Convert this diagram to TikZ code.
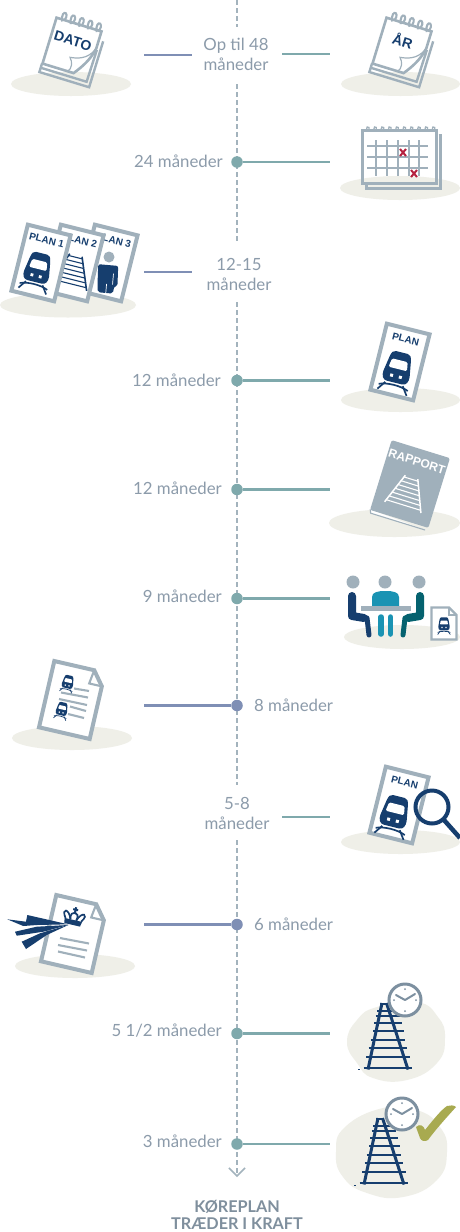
\documentclass[tikz,border=0pt]{standalone}
\usepackage{fontspec}
\setmainfont{Lato}
\newfontfamily\iconfont{Liberation Sans}
\usetikzlibrary{arrows.meta}
\definecolor{navy}{HTML}{163E6E}
\definecolor{axisgrey}{HTML}{A3B3BD}
\definecolor{sheet}{HTML}{A0B0BB}
\definecolor{tealline}{HTML}{7FA9AC}
\definecolor{purpline}{HTML}{7F8FB5}
\definecolor{ground}{HTML}{EFEFE8}
\definecolor{labelc}{HTML}{8C9BAA}
\definecolor{boldc}{HTML}{7F8F9D}
\definecolor{redx}{HTML}{B5213F}
\definecolor{olive}{HTML}{A8AA50}
\definecolor{bluep}{HTML}{1A93B3}
\definecolor{darkteal}{HTML}{05626F}
\definecolor{clockc}{HTML}{7D90A0}
\tikzset{
  x=1pt,y=-1pt,
  lab/.style={font=\fontsize{16.8}{20}\selectfont,text=labelc,inner sep=0pt,align=center},
  axisline/.style={draw=axisgrey,line width=2pt,dash pattern=on 4.5pt off 3.5pt},
  dotT/.style={circle,fill=tealline,inner sep=0pt,minimum size=11.5pt},
  dotP/.style={circle,fill=purpline,inner sep=0pt,minimum size=11.5pt},
  lineT/.style={draw=tealline,line width=2.2pt},
  lineP/.style={draw=purpline,line width=2.2pt},
  grd/.style={fill=ground},
  sheetline/.style={draw=sheet,line width=4pt,line join=miter},
  thinsheet/.style={draw=sheet,line width=2.1pt},
  iconlab/.style={font=\iconfont\bfseries\fontsize{10}{10}\selectfont,text=navy,inner sep=0pt,transform shape},
}
% train icon: x y rotation scale
\newcommand{\TrainIcon}[4]{%
\begin{scope}[shift={(#1,#2)},rotate=#3,scale=#4]
\fill[navy] (-6,-16) -- (6,-16) .. controls (9,-16) and (10,-14) .. (11,-9) -- (13.5,6) .. controls (14,11) and (12,15) .. (8,15) -- (-8,15) .. controls (-12,15) and (-14,11) .. (-13.5,6) -- (-11,-9) .. controls (-10,-14) and (-9,-16) .. (-6,-16) -- cycle;
\fill[white,rounded corners=1.5*#4] (-8,-8) -- (8,-8) -- (9.5,1) -- (-9.5,1) -- cycle;
\fill[white] (-6,7) rectangle (-3,10) (3,7) rectangle (6,10);
\draw[navy,line width=1.7pt*#4] (-15,20) .. controls (-7,16.5) and (7,16.5) .. (15,20);
\draw[navy,line width=1.7pt*#4] (-9,16.5) -- (-15,25) (9,16.5) -- (15,25);
\end{scope}}
% tilted plan sheet: x y text
\newcommand{\PlanSheet}[3]{%
\begin{scope}[shift={(#1,#2)},rotate=-14]
\draw[sheetline,fill=white] (-22,-34) rectangle (22,34);
\node[iconlab] at (0,-23.5) {#3};
\end{scope}}
% spiral calendar pad
\newcommand{\CalPad}[3]{%
\begin{scope}[shift={(#1,#2)},rotate=-17]
\draw[thinsheet,line width=2.4pt] (-24,24) -- (-24,33) -- (28,33) -- (28,-15);
\draw[thinsheet,line width=2.4pt] (-24,28.5) -- (24,28.5) -- (24.5,-5);
\draw[thinsheet,line width=2.6pt,fill=white,line join=miter] (-23.5,-24) -- (23.5,-24) -- (23.5,-6) .. controls (21,7) and (15,16) .. (9,24) -- (-23.5,24) -- cycle;
\draw[draw=sheet,line width=1.2pt] (23,-5) .. controls (18,7) and (8,9) .. (1,10) .. controls (5,14) and (6,20) .. (3,24);
\foreach \q in {-17,-8,1,10,19}{
\draw[thinsheet,fill=none] (\q,-22) .. controls (\q-3,-28) and (\q-1,-32) .. (\q+1,-31) .. controls (\q+3,-30) and (\q+3,-26) .. (\q+2,-24);}
\node[iconlab,font=\iconfont\bfseries\fontsize{14}{14}\selectfont] at (-1,-6.5) {#3};
\end{scope}}
% large track: x(bottom centre) y(bottom)
\newcommand{\BigTrack}[2]{%
\begin{scope}[shift={(#1,#2)}]
\foreach \yy/\aa/\bb in {-10.7/-21.7/22.3,-20/-19.3/19.3,-28.3/-17.3/17.3,-36.7/-15/15.7,-44.7/-14/14,-51.7/-12.3/11.7,-57.3/-10.7/10,-64/-8/-1}{
\draw[navy,line width=2pt] (\aa,\yy) -- (\bb,\yy);}
\draw[navy,line width=2.8pt] (-24.3,0) -- (24.3,0);
\draw[navy,line width=3pt] (-20,1.5) -- (-6,-65) (20,1.5) -- (-1.5,-65);
\end{scope}}
% clock
\newcommand{\ClockIcon}[2]{%
\begin{scope}[shift={(#1,#2)}]
\draw[draw=clockc,line width=3pt,fill=white] (0,0) circle (16);
\draw[draw=clockc,line width=2pt,line cap=round,line join=round] (-9,-5) -- (0,0) -- (10,-6);
\fill[clockc] (0,-11) circle (1) (0,11) circle (1) (-11,0) circle (1) (11,0) circle (1);
\end{scope}}
\begin{document}
\begin{tikzpicture}
\useasboundingbox (0,0) rectangle (460,1232);
\fill[white] (0,0) rectangle (460,1232);
% grounds
\fill[grd] (71,84) ellipse [x radius=60,y radius=12];
\fill[grd] (400.5,84) ellipse [x radius=59.5,y radius=12];
\fill[grd] (400,188) ellipse [x radius=60,y radius=12];
\fill[grd] (68,305) ellipse [x radius=68,y radius=12.5];
\fill[grd] (400.5,400) ellipse [x radius=59.5,y radius=12];
\fill[grd] (394.5,523) ellipse [x radius=65.5,y radius=14];
\fill[grd] (402,637) ellipse [x radius=58,y radius=12];
\fill[grd] (72,738) ellipse [x radius=60,y radius=12];
\fill[grd] (400.5,842) ellipse [x radius=59.5,y radius=12];
\fill[grd] (75,966) ellipse [x radius=60,y radius=12];
\fill[grd] plot[smooth cycle,tension=.8] coordinates {(377,1007)(417,1002)(438,1017)(445,1038)(437,1063)(407,1080)(373,1078)(357,1063)(347,1042)(357,1020)};
\fill[grd] plot[smooth cycle,tension=.8] coordinates {(383,1108)(417,1110)(440,1127)(447,1152)(437,1180)(403,1197)(367,1193)(343,1177)(336,1152)(345,1127)};
% axis
\coordinate (a0) at (237,0); \coordinate (a1) at (237,27);
\coordinate (a2) at (237,84); \coordinate (a3) at (237,241);
\coordinate (a4) at (237,302); \coordinate (a5) at (237,785);
\coordinate (a6) at (237,840); \coordinate (a7) at (237,1177);
\draw[axisline] (a0) -- (a1);
\draw[axisline] (a2) -- (a3);
\draw[axisline] (a4) -- (a5);
\draw[axisline,-{Straight Barb[length=8pt,width=16pt,line width=1.5pt]}] (a6) -- (a7);
% dots
\node[dotT] (d24) at (237,162) {};
\node[dotT] (d12a) at (237,380.5) {};
\node[dotT] (d12b) at (237,489.5) {};
\node[dotT] (d9) at (237,598.5) {};
\node[dotP] (d8) at (237,705.5) {};
\node[dotP] (d6) at (237,924.5) {};
\node[dotT] (d55) at (237,1033.5) {};
\node[dotT] (d3) at (237,1144) {};
% connector ends
\coordinate (c24) at (330,162); \coordinate (c12a) at (330,380.5); \coordinate (c12b) at (330,489.5);
\coordinate (c9) at (330,598.5); \coordinate (c8) at (144,705.5); \coordinate (c6) at (144,924.5);
\coordinate (c55) at (330,1033.5); \coordinate (c3) at (330,1144);
\draw[lineT] (d24) -- (c24);
\draw[lineT] (d12a) -- (c12a);
\draw[lineT] (d12b) -- (c12b);
\draw[lineT] (d9) -- (c9);
\draw[lineP] (d8) -- (c8);
\draw[lineP] (d6) -- (c6);
\draw[lineT] (d55) -- (c55);
\draw[lineT] (d3) -- (c3);
% free segments
\coordinate (s1a) at (144,55); \coordinate (s1b) at (192,55);
\coordinate (s2a) at (282,54); \coordinate (s2b) at (330,54);
\coordinate (s3a) at (144,272); \coordinate (s3b) at (192,272);
\coordinate (s4a) at (282,817); \coordinate (s4b) at (330,817);
\draw[lineP] (s1a) -- (s1b);
\draw[lineT] (s2a) -- (s2b);
\draw[lineP] (s3a) -- (s3b);
\draw[lineT] (s4a) -- (s4b);
% labels
\node[lab] (l48) at (236,54) {Op til 48\\måneder};
\node[lab,anchor=east] (l24) at (223,161) {24 måneder};
\node[lab] (l1215) at (239,274) {12-15\\måneder};
\node[lab,anchor=east] (l12a) at (221,380) {12 måneder};
\node[lab,anchor=east] (l12b) at (222,488) {12 måneder};
\node[lab,anchor=east] (l9) at (222,596) {9 måneder};
\node[lab,anchor=west] (l8) at (254,705) {8 måneder};
\node[lab] (l58) at (237,813) {5-8\\måneder};
\node[lab,anchor=west] (l6) at (254,924) {6 måneder};
\node[lab,anchor=east] (l55) at (222,1031) {5 1/2 måneder};
\node[lab,anchor=east] (l3) at (222,1141) {3 måneder};
\node[font=\bfseries\fontsize{16.2}{17}\selectfont,text=boldc,align=center,inner sep=0pt] (lend) at (237,1214.5) {KØREPLAN\\TRÆDER I KRAFT};
% calendars
\CalPad{72}{47.5}{DATO}
\CalPad{402}{47.5}{ÅR}
% big calendar
\draw[sheetline,line width=3pt] (438.5,135) -- (440,135) -- (440,188) -- (366,188) -- (366,183);
\draw[sheetline,line width=3pt] (362,130) rectangle (436,183);
\foreach \q in {376,387,398,409,419}{\draw[thinsheet,line width=1.1pt] (\q,140) -- (\q,176);}
\foreach \q in {146,157,168}{\draw[thinsheet,line width=1.1pt] (367,\q) -- (428,\q);}
\foreach \q in {367,374.3,381.6,388.9,396.2,403.5,410.8,418.1,425.4,432.7}{
\draw[thinsheet,line width=1.3pt] (\q,131) .. controls (\q-1,127) and (\q+1,125.5) .. (\q+2,127.5) -- (\q+2,131);}
\draw[redx,line width=2pt] (400,149) -- (406,156) (406,149) -- (400,156);
\draw[redx,line width=2pt] (411,170) -- (417,177) (417,170) -- (411,177);
% plans
\PlanSheet{108}{263}{PLAN 3}
\fill[sheet] (109,257) circle (5.5);
\begin{scope}[shift={(107,279)},rotate=-5]
\fill[navy,rounded corners=2] (-10,-14) -- (10,-14) -- (11,6) -- (8,6) -- (7,14) -- (-8,14) -- (-9,6) -- cycle;
\draw[white,line width=.7pt] (6,-6) -- (6,5) (0,5) -- (0,14);
\end{scope}
\PlanSheet{74}{263}{PLAN 2}
\begin{scope}[shift={(74,263)},rotate=-14]
\draw[navy,line width=1.6pt] (-6.3,-8) -- (-19,24) (6.3,-8) -- (19,24);
\foreach \q in {-6,-1.5,3,7.5,12,16.5,21}{\draw[navy,line width=1.1pt] ({-6.6-(\q+8)*.4},\q) -- ({6.6+(\q+8)*.4},\q);}
\end{scope}
\PlanSheet{41}{263}{PLAN 1}
\TrainIcon{38}{268}{-14}{.95}
\PlanSheet{400}{362}{PLAN}
\TrainIcon{398}{368}{-14}{1}
% rapport
\begin{scope}[shift={(410,484)},rotate=-17.2]
\draw[draw=sheet,line width=1.1pt,fill=white] (-30.5,36) -- (-29,39.5) -- (28,39.5);
\fill[fill=sheet,rounded corners=1.5pt] (-30.5,-36.5) rectangle (30.5,36.5);
\node[iconlab,font=\iconfont\bfseries\fontsize{12}{12}\selectfont,text=white] (rap) at (0,-23.5) {RAPPORT};
\draw[white,line width=1.5pt] (-7,-7) -- (-19,24.5) (6,-7) -- (19,24.5);
\foreach \q in {-5,-.5,4,8.5,13,17.5,22}{\draw[white,line width=1.1pt] ({-7.5-(\q+7)*.38},\q) -- ({6.5+(\q+7)*.4},\q);}
\end{scope}
% meeting
\fill[sheet] (353,582) circle (6.5) (385,582) circle (6.5) (419,582) circle (6.5);
\draw[navy,line width=8pt,line cap=round,line join=round] (352,596) -- (352,616) -- (364,618);
\draw[navy,line width=5pt,line cap=round,line join=round] (364,618) -- (367,618) -- (369,635);
\draw[darkteal,line width=8pt,line cap=round,line join=round] (420,596) -- (420,616) -- (408,618);
\draw[darkteal,line width=5pt,line cap=round,line join=round] (408,618) -- (405,618) -- (403,635);
\fill[bluep] (372,606) -- (372,597) .. controls (372,592) and (378,591) .. (385.5,591) .. controls (393,591) and (399,592) .. (399,597) -- (399,606) -- cycle;
\fill[sheet] (361,606) rectangle (411,611);
\draw[bluep,line width=5.5pt,line cap=round] (381,617) -- (381,634) (390.5,617) -- (390.5,634);
\draw[thinsheet,line width=2.4pt,fill=white,line join=miter] (431.5,607.5) -- (449,607.5) -- (456.5,615) -- (456.5,639.5) -- (431.5,639.5) -- cycle;
\draw[thinsheet,line width=1.2pt] (449,607.5) -- (449,615) -- (456.5,615);
\TrainIcon{444}{624}{0}{.42}
% doc with trains
\begin{scope}[shift={(72,700)},rotate=-13]
\draw[sheetline,fill=white] (-26,-34) -- (15,-34) -- (26,-20) -- (26,34) -- (-26,34) -- cycle;
\draw[thinsheet] (15,-34) -- (13,-20) -- (26,-20);
\end{scope}
\TrainIcon{68}{682}{-13}{.42}
\TrainIcon{62}{709}{-13}{.42}
\draw[thinsheet] (74,688.5) -- (89,691);
\draw[thinsheet] (61,692.5) -- (88,697.5);
\draw[thinsheet] (59,699) -- (87,705);
\draw[thinsheet] (70,706.5) -- (86,711);
\draw[thinsheet] (68,714) -- (84,718);
% plan + magnifier
\PlanSheet{399}{805}{PLAN}
\TrainIcon{395}{812}{-14}{1}
\draw[navy,line width=4pt] (432,807) circle (16.5);
\draw[navy,line width=4.5pt] (444,820) -- (460,838);
% doc with crown
\begin{scope}[shift={(74,934)},rotate=-13]
\draw[sheetline,fill=white] (-26,-34) -- (15,-34) -- (26,-20) -- (26,34) -- (-26,34) -- cycle;
\draw[thinsheet] (15,-34) -- (13,-20) -- (26,-20);
\end{scope}
\begin{scope}[shift={(74,917)},rotate=-13]
\fill[navy] (-8,8) -- (8,8) -- (9,3) -- (-9,3) -- cycle;
\draw[navy,line width=1.7pt] (-8,3) .. controls (-15,-7) and (-6,-7) .. (-3,3);
\draw[navy,line width=1.7pt] (8,3) .. controls (15,-7) and (6,-7) .. (3,3);
\draw[navy,line width=1.7pt] (-3,3) .. controls (-6,-7) and (6,-7) .. (3,3);
\fill[navy] (-1,-10) rectangle (1,-3) (-2.5,-8.5) rectangle (2.5,-6.5);
\end{scope}
\draw[thinsheet] (60,938) -- (89,943.5);
\draw[thinsheet] (58,945) -- (87,950.5);
\draw[thinsheet] (58,951.5) -- (85,957.5);
% streaks
\fill[navy] (7.3,919.3) -- (26,921.7) -- (27.3,915) -- (56.7,921.7) -- (68.3,924.3) -- (36.7,925) -- (23.3,926) -- cycle;
\fill[navy] (15,931.7) -- (36.7,926.7) -- (68.3,925) -- (43.3,931.7) -- (16.7,935.7) -- cycle;
\fill[navy] (21.7,941.7) -- (40,933.3) -- (68.3,925) -- (46.7,935) -- (26,949) -- cycle;
% tracks
\BigTrack{388}{1068}
\ClockIcon{405}{1000}
\fill[navy] (358,1069) rectangle (360,1069.7);
\BigTrack{384}{1183}
\ClockIcon{402}{1114}
\fill[navy] (354,1184.7) rectangle (356,1185.5);
\fill[olive] (416,1127) .. controls (420,1123) and (424,1126) .. (425,1130) .. controls (433,1120) and (441,1110) .. (447,1106) .. controls (450,1105) and (454,1105) .. (456,1107) .. controls (447,1117) and (436,1129) .. (428,1140) .. controls (425,1142) and (421,1141) .. (420,1138) -- cycle;
\end{tikzpicture}
\end{document}
